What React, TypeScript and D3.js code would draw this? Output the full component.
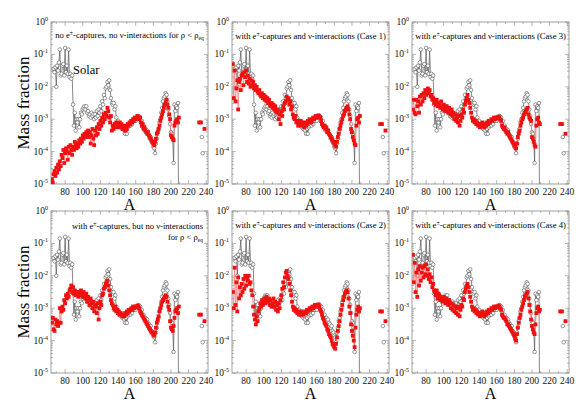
import React from "react";
import * as d3 from "d3";

// ---------- data (log10 of mass fraction) ----------
const massNumbers = d3.range(65, 210); // A = 65 .. 209 for calculated abundances
const solarMass = d3.range(67, 210);   // A = 67 .. 209 for solar r-process

const solarLog = [
  -1.45, -1.55, -1.40, -2.00, -1.35, -1.50, -1.25, -0.85, -1.65, -1.60,
  -1.35, -1.30, -1.65, -0.80, -1.55, -1.35, -1.60, -0.85, -1.70, -1.60,
  -1.75, -1.65, -2.55, -3.20, -2.80, -3.35, -3.00, -3.10, -3.00, -3.25,
  -3.00, -2.80, -2.85, -2.70, -2.65, -2.60, -2.70, -2.60, -2.80, -2.75,
  -2.90, -2.85, -2.95, -2.80, -2.90, -2.85, -3.00, -2.85, -2.95, -2.75,
  -2.90, -2.70, -2.80, -2.60, -2.75, -2.45, -2.55, -2.25, -2.35, -2.05,
  -2.00, -1.85, -1.95, -1.80, -2.10, -2.35, -2.50, -2.55, -2.50, -2.70,
  -2.60, -2.95, -3.10, -3.05, -3.20, -3.15, -3.25, -3.20, -3.30, -3.25,
  -3.35, -3.45, -3.30, -3.45, -3.25, -3.20, -3.15, -3.20, -3.10, -3.15,
  -3.05, -3.05, -3.00, -3.05, -2.95, -2.95, -2.90, -2.92, -2.95, -3.10,
  -3.05, -3.25, -3.20, -3.35, -3.30, -3.40, -3.35, -3.45, -3.50, -3.60,
  -3.55, -3.70, -3.75, -3.85, -3.90, -4.05, -3.75, -3.60, -3.40, -3.30,
  -3.10, -3.00, -2.80, -2.65, -2.45, -2.35, -2.30, -2.20, -2.25, -2.45,
  -2.70, -2.90, -3.15, -3.40, -3.45, -3.60, -4.35, -2.55, -2.75, -2.60,
  -2.65, -2.50, -8.00,
];
const solarTailA = [235, 236];
const solarTailLog = [-3.55, -4.05];

const tailA = [232, 234, 238];

const noCapturesLog = [
  -4.85, -4.95, -4.70, -4.60, -4.75, -4.50, -4.65, -4.40, -4.55, -4.30,
  -4.45, -4.10, -4.20, -3.95, -4.35, -4.05, -3.90, -4.00, -4.25, -3.85,
  -4.05, -3.80, -3.95, -4.10, -3.85, -3.95, -3.70, -3.80, -3.90, -3.75,
  -3.85, -3.65, -3.75, -3.60, -3.70, -3.50, -3.60, -3.45, -3.55, -3.40,
  -3.50, -3.35, -3.55, -3.40, -3.75, -3.50, -3.30, -3.60, -3.80, -3.35,
  -3.50, -3.25, -3.45, -3.15, -3.30, -3.05, -3.20, -2.95, -3.10, -2.85,
  -3.00, -2.80, -2.90, -2.65, -2.75, -2.95, -3.10, -2.90, -3.35, -3.20,
  -3.30, -3.15, -3.25, -3.10, -3.20, -3.15, -3.25, -3.10, -3.20, -3.15,
  -3.30, -3.20, -3.25, -3.35, -3.20, -3.30, -3.15, -3.20, -3.10, -3.15,
  -3.05, -3.10, -3.00, -3.05, -2.95, -3.00, -2.95, -2.90, -2.95, -3.00,
  -2.95, -3.10, -3.20, -3.15, -3.30, -3.25, -3.35, -3.40, -3.45, -3.40,
  -3.50, -3.55, -3.60, -3.65, -3.70, -3.75, -3.80, -3.70, -3.60, -3.45,
  -3.40, -3.30, -3.20, -3.05, -2.95, -2.85, -2.75, -2.65, -2.55, -2.50,
  -2.40, -2.55, -2.65, -2.85, -3.00, -3.50, -3.55, -3.60, -3.65, -3.20,
  -3.10, -3.05, -3.00, -3.10, -2.95,
];
const noCapturesTail = [-3.1, -3.1, -3.3];

const case1Log = [
  -1.30, -2.35, -1.50, -2.45, -2.05, -1.80, -2.70, -1.85, -1.75, -2.10,
  -1.65, -1.60, -1.95, -1.55, -1.70, -1.50, -1.85, -1.65, -1.90, -1.75,
  -2.00, -1.80, -1.95, -1.85, -2.05, -1.95, -2.10, -2.00, -2.15, -2.20,
  -2.10, -2.25, -2.30, -2.20, -2.35, -2.25, -2.40, -2.30, -2.45, -2.35,
  -2.50, -2.40, -2.55, -2.60, -2.50, -2.65, -2.55, -2.70, -2.60, -2.75,
  -2.80, -2.70, -3.00, -2.85, -3.15, -2.75, -2.90, -2.60, -2.70, -2.50,
  -2.45, -2.30, -2.40, -2.35, -2.55, -2.45, -2.70, -2.60, -2.85, -2.95,
  -3.00, -2.90, -3.10, -3.05, -3.20, -3.10, -3.15, -3.05, -3.20, -3.10,
  -3.15, -3.25, -3.10, -3.20, -3.15, -3.05, -3.10, -3.00, -3.05, -3.10,
  -3.00, -2.95, -3.00, -2.95, -2.90, -2.95, -2.90, -2.88, -2.92, -2.95,
  -3.05, -3.15, -3.20, -3.25, -3.20, -3.30, -3.25, -3.40, -3.35, -3.45,
  -3.50, -3.55, -3.60, -3.65, -3.70, -3.75, -3.80, -3.85, -3.70, -3.55,
  -3.45, -3.30, -3.20, -3.10, -3.00, -2.90, -2.85, -2.75, -2.70, -2.65,
  -2.60, -2.70, -2.85, -3.00, -3.30, -3.40, -3.55, -3.65, -3.75, -3.80,
  -3.20, -3.00, -2.95, -3.10, -2.90,
];
const case1Tail = [-3.15, -3.15, -3.35];

const case3Log = [
  -2.70, -2.40, -2.80, -2.85, -2.40, -2.60, -2.45, -2.80, -2.30, -2.55,
  -2.25, -2.45, -2.20, -2.35, -2.10, -2.25, -2.15, -2.05, -2.20, -2.10,
  -2.30, -2.25, -2.40, -2.35, -2.50, -2.45, -2.55, -2.40, -2.60, -2.50,
  -2.55, -2.65, -2.45, -2.60, -2.70, -2.55, -2.65, -2.75, -2.60, -2.70,
  -2.80, -2.65, -2.75, -2.85, -2.70, -2.90, -2.80, -3.00, -2.85, -3.05,
  -2.95, -3.10, -2.90, -3.20, -3.05, -2.85, -2.95, -2.70, -2.80, -2.55,
  -2.45, -2.35, -2.25, -2.40, -2.50, -2.65, -2.80, -2.95, -3.05, -3.00,
  -3.10, -3.05, -3.15, -3.10, -3.20, -3.15, -3.25, -3.15, -3.20, -3.10,
  -3.20, -3.25, -3.15, -3.20, -3.10, -3.15, -3.05, -3.10, -3.05, -3.00,
  -3.05, -3.00, -2.95, -3.00, -2.95, -2.98, -2.95, -2.92, -2.95, -3.00,
  -3.05, -3.20, -3.25, -3.30, -3.25, -3.35, -3.40, -3.45, -3.40, -3.50,
  -3.55, -3.60, -3.65, -3.70, -3.75, -3.80, -3.85, -3.90, -3.75, -3.55,
  -3.45, -3.35, -3.20, -3.10, -3.00, -2.95, -2.85, -2.80, -2.75, -2.70,
  -2.65, -2.85, -2.95, -3.00, -3.05, -3.55, -3.60, -3.70, -3.80, -3.85,
  -3.20, -3.00, -2.95, -3.10, -3.15,
];
const case3Tail = [-3.15, -3.15, -3.45];

const noNuLog = [
  -3.45, -3.30, -3.65, -3.70, -3.35, -3.50, -3.40, -3.55, -3.45, -3.00,
  -3.45, -3.10, -2.95, -3.05, -2.75, -2.85, -2.60, -2.70, -2.55, -2.65,
  -2.45, -2.40, -2.30, -2.50, -2.35, -2.55, -2.45, -2.60, -2.50, -2.55,
  -2.65, -2.50, -2.60, -2.45, -2.55, -2.65, -2.50, -2.60, -2.70, -2.55,
  -2.80, -2.65, -2.75, -2.90, -2.70, -2.85, -3.00, -2.80, -3.10, -2.90,
  -2.95, -3.15, -2.85, -3.35, -3.00, -2.80, -2.90, -2.60, -2.55, -2.40,
  -2.35, -2.25, -2.20, -2.15, -2.30, -2.45, -2.60, -2.75, -2.85, -2.90,
  -3.00, -3.05, -2.95, -3.10, -3.05, -3.15, -3.10, -3.20, -3.15, -3.20,
  -3.25, -3.20, -3.25, -3.15, -3.20, -3.10, -3.15, -3.05, -3.10, -3.05,
  -3.00, -3.05, -2.95, -3.00, -2.95, -2.98, -2.95, -2.92, -2.95, -3.00,
  -3.10, -3.15, -3.20, -3.25, -3.30, -3.35, -3.40, -3.45, -3.50, -3.55,
  -3.60, -3.65, -3.70, -3.75, -3.75, -3.80, -3.85, -3.75, -3.60, -3.45,
  -3.35, -3.25, -3.10, -3.00, -2.90, -2.80, -2.75, -2.70, -2.65, -2.60,
  -2.65, -2.80, -2.95, -3.05, -3.40, -3.60, -3.65, -3.70, -3.55, -3.30,
  -3.10, -3.05, -3.00, -3.15, -2.95,
];
const noNuTail = [-3.2, -3.2, -3.4];

const case2Log = [
  -2.50, -3.00, -1.75, -2.90, -2.20, -3.10, -2.05, -2.70, -2.35, -2.60,
  -2.25, -2.50, -2.10, -2.40, -2.00, -2.30, -2.05, -2.15, -2.00, -2.25,
  -2.20, -2.45, -2.60, -2.95, -3.20, -3.35, -3.50, -3.25, -3.40, -3.10,
  -3.00, -2.85, -2.95, -2.75, -2.90, -2.80, -2.70, -2.85, -2.65, -2.75,
  -2.80, -2.70, -2.90, -2.75, -2.95, -2.85, -2.70, -2.95, -2.80, -3.05,
  -2.90, -3.10, -2.85, -3.00, -2.75, -2.60, -2.40, -2.20, -2.35, -2.05,
  -1.90, -1.85, -2.00, -2.10, -2.25, -2.45, -2.60, -2.80, -2.95, -3.05,
  -3.00, -3.10, -3.05, -3.15, -3.10, -3.20, -3.15, -3.20, -3.10, -3.15,
  -3.20, -3.15, -3.10, -3.15, -3.05, -3.10, -3.05, -3.00, -3.05, -3.00,
  -2.95, -3.00, -2.95, -2.90, -2.95, -2.90, -2.92, -2.88, -2.95, -3.05,
  -3.10, -3.20, -3.30, -3.35, -3.45, -3.50, -3.55, -3.65, -3.70, -3.80,
  -3.85, -3.90, -4.00, -4.10, -4.15, -4.20, -4.25, -4.10, -3.90, -3.70,
  -3.55, -3.40, -3.20, -3.05, -2.90, -2.75, -2.65, -2.55, -2.50, -2.45,
  -2.50, -2.70, -2.95, -3.15, -3.50, -3.70, -3.85, -4.00, -4.20, -3.60,
  -3.20, -3.05, -2.95, -3.10, -3.00,
];
const case2Tail = [-3.1, -3.1, -3.4];

const case4Log = [
  -1.35, -2.20, -1.60, -2.50, -1.90, -2.65, -1.80, -2.30, -1.70, -2.15,
  -1.90, -1.75, -2.05, -1.70, -1.95, -1.65, -2.00, -1.80, -2.10, -1.95,
  -2.20, -2.05, -2.35, -2.25, -2.45, -2.50, -2.60, -2.45, -2.70, -2.55,
  -2.60, -2.75, -2.65, -2.70, -2.80, -2.65, -2.75, -2.85, -2.70, -2.80,
  -2.90, -2.75, -2.85, -3.00, -2.85, -3.05, -2.90, -3.10, -2.95, -3.15,
  -3.00, -3.20, -2.95, -3.25, -3.05, -2.90, -2.95, -2.70, -2.75, -2.50,
  -2.40, -2.30, -2.25, -2.35, -2.50, -2.65, -2.80, -2.95, -3.05, -3.00,
  -3.10, -3.05, -3.15, -3.10, -3.20, -3.15, -3.25, -3.15, -3.20, -3.10,
  -3.20, -3.25, -3.15, -3.20, -3.10, -3.15, -3.05, -3.10, -3.05, -3.00,
  -3.05, -3.00, -2.95, -3.00, -2.95, -2.98, -2.95, -2.92, -2.95, -3.00,
  -3.05, -3.20, -3.25, -3.30, -3.30, -3.35, -3.40, -3.50, -3.50, -3.55,
  -3.60, -3.65, -3.70, -3.75, -3.80, -3.85, -3.95, -4.00, -3.80, -3.60,
  -3.45, -3.30, -3.20, -3.05, -2.95, -2.85, -2.75, -2.65, -2.60, -2.55,
  -2.50, -2.70, -2.90, -3.10, -3.35, -3.55, -3.65, -3.75, -3.80, -3.50,
  -3.15, -3.00, -2.95, -3.10, -3.05,
];
const case4Tail = [-3.1, -3.1, -3.4];

const xTickValues = [80, 100, 120, 140, 160, 180, 200, 220, 240];
const yTickExponents = [0, -1, -2, -3, -4, -5];

// ---------- layout ----------
const W = 585;
const H = 413;
const PW = 157;
const PH = 162;
const colX = [51, 232, 412];
const rowY = [22, 211];
const FONT = "Liberation Serif, Times New Roman, DejaVu Serif, serif";

const x = d3.scaleLinear().domain([64, 242]).range([0, PW]);
const y = d3.scaleLog().domain([1e-5, 1]).range([PH, 0]);

type PanelDef = {
  col: number;
  row: number;
  red: number[];
  tail: number[];
  kind: "p1" | "p4" | "case";
  caseLabel?: string;
};

const panels: PanelDef[] = [
  { col: 0, row: 0, red: noCapturesLog, tail: noCapturesTail, kind: "p1" },
  { col: 1, row: 0, red: case1Log, tail: case1Tail, kind: "case", caseLabel: "1" },
  { col: 2, row: 0, red: case3Log, tail: case3Tail, kind: "case", caseLabel: "3" },
  { col: 0, row: 1, red: noNuLog, tail: noNuTail, kind: "p4" },
  { col: 1, row: 1, red: case2Log, tail: case2Tail, kind: "case", caseLabel: "2" },
  { col: 2, row: 1, red: case4Log, tail: case4Tail, kind: "case", caseLabel: "4" },
];

const AXIS = "#888";
const SOLAR_LINE = "#555";
const RED = "#f01010";
const RED_LINE = "#ff7a7a";

function Title({ p }: { p: PanelDef }) {
  const fs = 8.6;
  if (p.kind === "p1") {
    return (
      <text x={PW / 2} y={16} fontSize={fs} textAnchor="middle">
        no e<tspan dy={-3} fontSize={6}>±</tspan>
        <tspan dy={3}>-captures, no ν-interactions for ρ &lt; ρ</tspan>
        <tspan dy={2} fontSize={5.5}>eq</tspan>
      </text>
    );
  }
  if (p.kind === "p4") {
    return (
      <g fontSize={fs} textAnchor="end">
        <text x={PW - 5} y={18}>
          with e<tspan dy={-3} fontSize={6}>±</tspan>
          <tspan dy={3}>-captures, but no ν-interactions</tspan>
        </text>
        <text x={PW - 5} y={29}>
          for ρ &lt; ρ<tspan dy={2} fontSize={5.5}>eq</tspan>
        </text>
      </g>
    );
  }
  return (
    <text x={PW / 2} y={17} fontSize={fs} textAnchor="middle">
      with e<tspan dy={-3} fontSize={6}>±</tspan>
      <tspan dy={3}>-captures and ν-interactions (Case {p.caseLabel})</tspan>
    </text>
  );
}

function Panel({ p, idx }: { p: PanelDef; idx: number }) {
  const x0 = colX[p.col];
  const y0 = rowY[p.row];
  const clipId = `clip-${idx}`;

  const solarPts = solarMass.map((a, i) => [a, Math.pow(10, solarLog[i])] as [number, number]);
  const redPts = massNumbers.map((a, i) => [a, Math.pow(10, p.red[i])] as [number, number]);
  const line = d3
    .line<[number, number]>()
    .x((d) => x(d[0]))
    .y((d) => y(d[1]));

  const majorX = xTickValues;
  const minorX = d3.range(70, 241, 10).filter((v) => v % 20 !== 0);
  const majorY = yTickExponents.map((e) => Math.pow(10, e));
  const minorY: number[] = [];
  for (let e = -5; e < 0; e++) {
    for (let k = 2; k <= 9; k++) minorY.push(k * Math.pow(10, e));
  }

  return (
    <g transform={`translate(${x0},${y0})`}>
      <defs>
        <clipPath id={clipId}>
          <rect x={0} y={0} width={PW} height={PH} />
        </clipPath>
      </defs>
      <rect x={0} y={0} width={PW} height={PH} fill="none" stroke={AXIS} strokeWidth={0.8} />
      <g stroke={AXIS} strokeWidth={0.6}>
        {majorX.map((v) => (
          <g key={"mx" + v}>
            <line x1={x(v)} x2={x(v)} y1={PH} y2={PH - 4} />
            <line x1={x(v)} x2={x(v)} y1={0} y2={4} />
          </g>
        ))}
        {minorX.map((v) => (
          <g key={"nx" + v}>
            <line x1={x(v)} x2={x(v)} y1={PH} y2={PH - 2} />
            <line x1={x(v)} x2={x(v)} y1={0} y2={2} />
          </g>
        ))}
        {majorY.map((v) => (
          <g key={"my" + v}>
            <line x1={0} x2={4} y1={y(v)} y2={y(v)} />
            <line x1={PW} x2={PW - 4} y1={y(v)} y2={y(v)} />
          </g>
        ))}
        {minorY.map((v) => (
          <g key={"ny" + v}>
            <line x1={0} x2={2} y1={y(v)} y2={y(v)} />
            <line x1={PW} x2={PW - 2} y1={y(v)} y2={y(v)} />
          </g>
        ))}
      </g>
      <g fontSize={9.5} fill="#111">
        {majorX.map((v) => (
          <text key={"lx" + v} x={x(v)} y={PH + 11} textAnchor="middle">
            {v}
          </text>
        ))}
        {yTickExponents.map((e) => (
          <text key={"ly" + e} x={-3} y={y(Math.pow(10, e)) + 3} textAnchor="end">
            10<tspan dy={-4} fontSize={6}>{e === 0 ? "0" : "-" + Math.abs(e)}</tspan>
          </text>
        ))}
      </g>
      <text x={PW / 2} y={PH + 26} textAnchor="middle" fontSize={16}>
        A
      </text>
      <g clipPath={`url(#${clipId})`}>
        <path d={line(solarPts) || ""} fill="none" stroke={SOLAR_LINE} strokeWidth={0.7} />
        {solarPts
          .filter((d) => d[1] > 1e-6)
          .map((d, i) => (
            <circle key={"s" + i} cx={x(d[0])} cy={y(d[1])} r={1.8} fill="#fff" stroke="#555" strokeWidth={0.6} />
          ))}
        {solarTailA.map((a, i) => (
          <circle key={"st" + i} cx={x(a)} cy={y(Math.pow(10, solarTailLog[i]))} r={1.8} fill="#fff" stroke="#555" strokeWidth={0.6} />
        ))}
        <path d={line(redPts) || ""} fill="none" stroke={RED_LINE} strokeWidth={0.7} />
        {redPts.map((d, i) => (
          <rect key={"r" + i} x={x(d[0]) - 1.9} y={y(d[1]) - 1.9} width={3.8} height={3.8} fill={RED} />
        ))}
        {tailA.map((a, i) => (
          <rect key={"rt" + i} x={x(a) - 1.9} y={y(Math.pow(10, p.tail[i])) - 1.9} width={3.8} height={3.8} fill={RED} />
        ))}
      </g>
      <Title p={p} />
      {p.kind === "p1" && (
        <text x={x(89)} y={y(Math.pow(10, -1.6))} fontSize={12.5}>
          Solar
        </text>
      )}
    </g>
  );
}

export default function App() {
  return (
    <svg
      width={W}
      height={H}
      viewBox={`0 0 ${W} ${H}`}
      fontFamily={FONT}
      style={{ position: "absolute", left: 0, top: 0, background: "#fff", fontFamily: FONT }}
    >
      <rect width={W} height={H} fill="#fff" />
      {panels.map((p, i) => (
        <Panel key={i} p={p} idx={i} />
      ))}
      {rowY.map((ry, i) => (
        <text
          key={"mf" + i}
          transform={`translate(29,${ry + PH / 2}) rotate(-90)`}
          textAnchor="middle"
          fontSize={17}
        >
          Mass fraction
        </text>
      ))}
    </svg>
  );
}
